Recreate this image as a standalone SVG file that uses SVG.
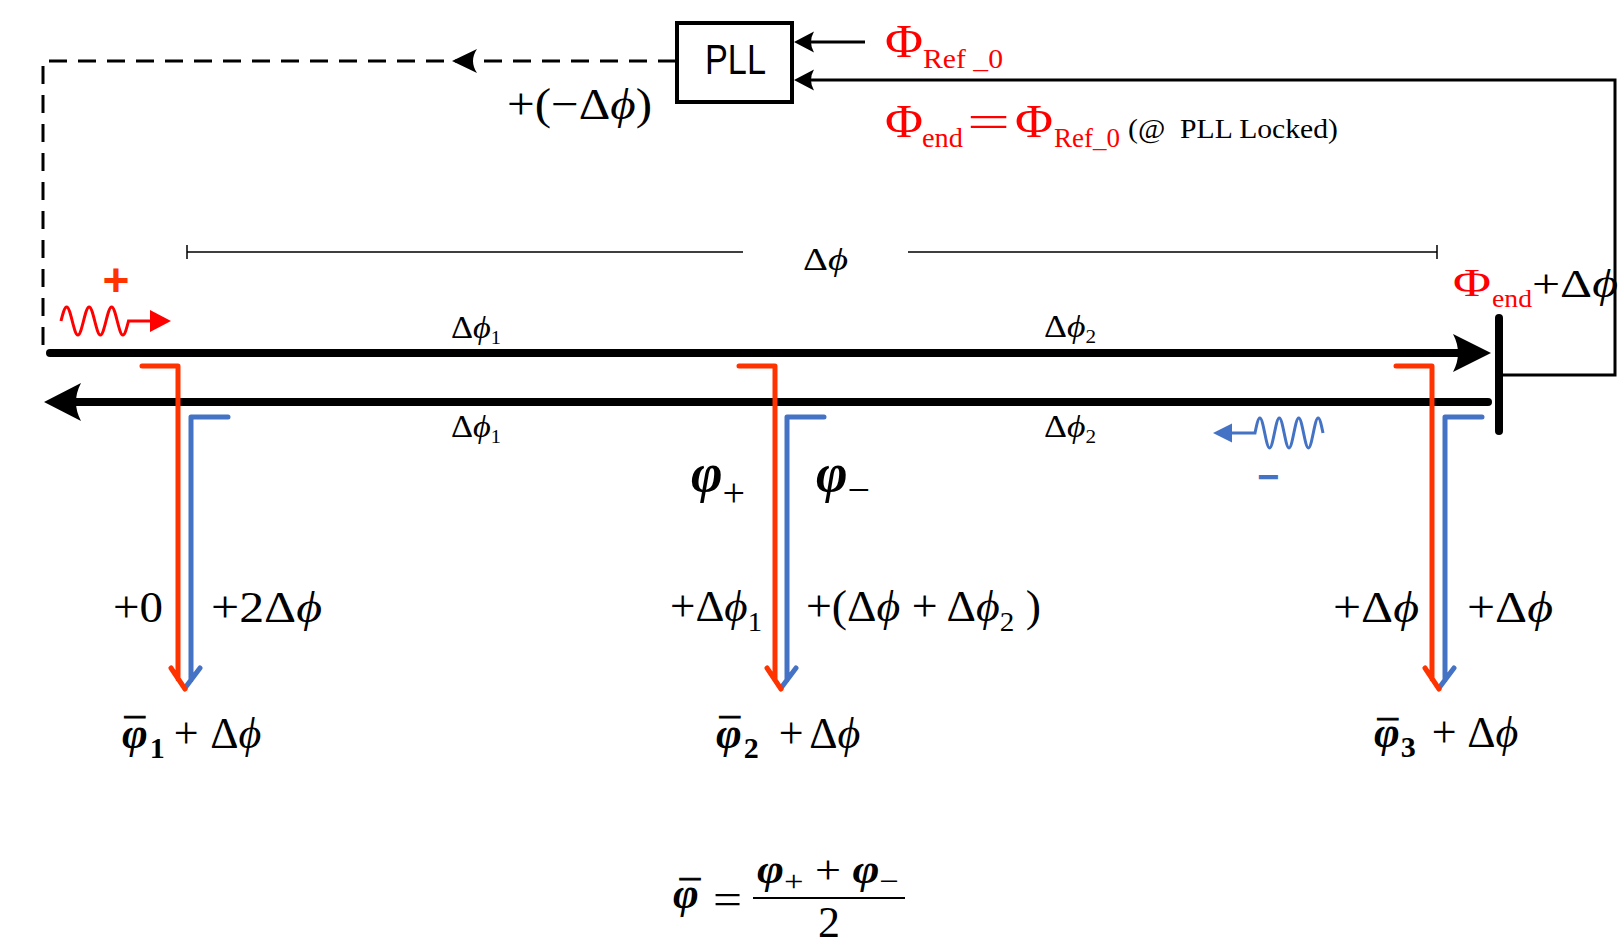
<svg xmlns="http://www.w3.org/2000/svg" width="1622" height="946" viewBox="0 0 1622 946">
<style>
text{font-family:'Liberation Serif','Times New Roman',serif;fill:#000}
.sans{font-family:'Liberation Sans',Arial,sans-serif}
.it{font-style:italic}
.bi{font-style:italic;font-weight:bold}
.b{font-weight:bold}
.red{fill:#FF0000}
.bar{text-anchor:middle;font-size:40px;stroke:#000;stroke-width:1;font-style:normal;font-weight:normal}
.bar2{font-size:40px;stroke:#000;stroke-width:1;font-style:normal;font-weight:normal}
.wire{fill:none;stroke:#000;stroke-width:3}
.thin{fill:none;stroke:#000;stroke-width:1.5}
.dash{stroke-dasharray:18 11}
.main{fill:none;stroke:#000;stroke-width:8;stroke-linecap:round}
.head{fill:#000}
.rl{fill:none;stroke:#FF3300;stroke-width:5;stroke-linecap:round;stroke-linejoin:round}
.bl{fill:none;stroke:#4472C4;stroke-width:5;stroke-linecap:round;stroke-linejoin:round}
.wr{fill:none;stroke:#FF0000;stroke-width:3}
.wb{fill:none;stroke:#4472C4;stroke-width:3}
</style>
<rect width="1622" height="946" fill="#fff"/>

<g id="connectors">
  <path class="wire dash" d="M676,61 H43 V352"/>
  <path class="head" d="M452,61 L477,49 Q469,61 477,73 Z"/>
  <path class="wire" d="M865,42 H808"/>
  <path class="head" d="M794,42 L814,31.5 Q808,42 814,52.5 Z"/>
  <path class="wire" d="M1503,375 H1615 V80 H808"/>
  <path class="head" d="M794,80 L814,69.5 Q808,80 814,90.5 Z"/>
  <path class="thin" d="M187,245 V259 M187,252 H743 M908,252 H1437 M1437,245 V259"/>
  <path class="main" d="M50,353 H1466"/>
  <path class="head" d="M1491,353 L1453,334 Q1463,353 1453,372 Z"/>
  <path class="main" d="M1488,402 H70"/>
  <path class="head" d="M44,402 L81,383 Q71,402 81,421 Z"/>
  <path class="main" d="M1499,318 V431"/>
  <path class="bl" d="M228,417 H191 V680 M200,668 L185,688"/>
  <path class="rl" d="M142,366 H178 V679 M171,668 L185,689"/>
  <path class="bl" d="M824,417 H787 V680 M796,668 L781,688"/>
  <path class="rl" d="M739,366 H775 V679 M767,668 L781,689"/>
  <path class="bl" d="M1482,417 H1445 V680 M1454,668 L1439,688"/>
  <path class="rl" d="M1396,366 H1432 V679 M1425,668 L1439,689"/>
</g>

<g id="pll">
  <rect x="677" y="23" width="115" height="79" fill="#fff" stroke="#000" stroke-width="4"/>
  <text class="sans" x="705" y="74" font-size="43" textLength="61" lengthAdjust="spacingAndGlyphs">PLL</text>
</g>

<g id="forward-wave">
  <path class="wr" d="M61,321 C62.835,313.828 64.589,307 66.625,307 C68.661,307 70.415,313.828 72.25,321 C74.085,328.172 75.839,335 77.875,335 C79.911,335 81.665,328.172 83.5,321 C85.335,313.828 87.089,307 89.125,307 C91.161,307 92.915,313.828 94.75,321 C96.585,328.172 98.339,335 100.375,335 C102.411,335 104.165,328.172 106,321 C107.835,313.828 109.589,307 111.625,307 C113.661,307 115.415,313.828 117.25,321 C119.085,328.172 120.839,335 122.875,335 C124.911,335 126.665,328.172 128.5,321 L152,321"/>
  <path d="M171,321 L150,310 L150,332 Z" fill="#FF0000"/>
  <text class="sans b" x="116" y="296" font-size="46" text-anchor="middle" style="fill:#FF3300">+</text>
</g>

<g id="backward-wave">
  <path class="wb" d="M1230,433 H1255 C1256.584,425.316 1258.099,418 1259.857,418 C1261.615,418 1263.13,425.316 1264.714,433 C1266.298,440.684 1267.813,448 1269.571,448 C1271.329,448 1272.844,440.684 1274.429,433 C1276.013,425.316 1277.528,418 1279.286,418 C1281.044,418 1282.559,425.316 1284.143,433 C1285.727,440.684 1287.242,448 1289,448 C1290.758,448 1292.273,440.684 1293.857,433 C1295.441,425.316 1296.956,418 1298.714,418 C1300.472,418 1301.987,425.316 1303.571,433 C1305.155,440.684 1306.67,448 1308.429,448 C1310.187,448 1311.702,440.684 1313.286,433 C1314.87,425.316 1316.385,418 1318.143,418 C1319.901,418 1321.416,425.316 1323,433"/>
  <path d="M1213,433 L1232,423.5 L1232,442.5 Z" fill="#4472C4"/>
  <text class="sans b" x="1268" y="490" font-size="38" text-anchor="middle" style="fill:#4472C4">−</text>
</g>

<g id="labels-top">
  <text x="507" y="119" font-size="44" textLength="145" lengthAdjust="spacingAndGlyphs">+(−Δ<tspan class="it">ϕ</tspan>)</text>
  <text y="57"><tspan class="red" x="885" font-size="46" textLength="38" lengthAdjust="spacingAndGlyphs">Φ</tspan><tspan class="red" x="923" y="68" font-size="28" textLength="80" lengthAdjust="spacingAndGlyphs">Ref _0</tspan></text>
  <text y="137"><tspan class="red" x="885" font-size="46" textLength="38" lengthAdjust="spacingAndGlyphs">Φ</tspan><tspan class="red" x="922" y="147" font-size="28" textLength="41" lengthAdjust="spacingAndGlyphs">end</tspan><tspan class="red" x="967" y="137" font-size="46" textLength="43" lengthAdjust="spacingAndGlyphs">=</tspan><tspan class="red" x="1015" font-size="46" textLength="38" lengthAdjust="spacingAndGlyphs">Φ</tspan><tspan class="red" x="1054" y="147" font-size="28" textLength="66" lengthAdjust="spacingAndGlyphs">Ref_0</tspan><tspan x="1128" y="138" font-size="27" textLength="210" lengthAdjust="spacingAndGlyphs" style="white-space:pre">(@  PLL Locked)</tspan></text>
  <text x="803" y="270" font-size="32" textLength="45" lengthAdjust="spacingAndGlyphs">Δ<tspan class="it">ϕ</tspan></text>
  <text y="296"><tspan class="red" x="1453" font-size="40" textLength="38" lengthAdjust="spacingAndGlyphs">Φ</tspan><tspan class="red" x="1492" y="307" font-size="26" textLength="40" lengthAdjust="spacingAndGlyphs">end</tspan><tspan x="1532" y="297" font-size="40" textLength="86" lengthAdjust="spacingAndGlyphs">+Δ<tspan class="it">ϕ</tspan></tspan></text>
</g>

<g id="labels-segments">
  <text x="451" y="338" font-size="32" textLength="50" lengthAdjust="spacingAndGlyphs">Δ<tspan class="it">ϕ</tspan><tspan font-size="19" dy="6">1</tspan></text>
  <text x="1044" y="337" font-size="32" textLength="52" lengthAdjust="spacingAndGlyphs">Δ<tspan class="it">ϕ</tspan><tspan font-size="19" dy="6">2</tspan></text>
  <text x="451" y="437" font-size="32" textLength="50" lengthAdjust="spacingAndGlyphs">Δ<tspan class="it">ϕ</tspan><tspan font-size="19" dy="6">1</tspan></text>
  <text x="1044" y="437" font-size="32" textLength="52" lengthAdjust="spacingAndGlyphs">Δ<tspan class="it">ϕ</tspan><tspan font-size="19" dy="6">2</tspan></text>
</g>

<g id="labels-phases">
  <text x="691" y="491" font-size="54"><tspan class="bi">φ</tspan><tspan font-size="40" dy="15">+</tspan></text>
  <text x="816" y="491" font-size="54"><tspan class="bi">φ</tspan><tspan font-size="40" dy="12">−</tspan></text>
  <text x="113" y="622" font-size="44" textLength="50" lengthAdjust="spacingAndGlyphs">+0</text>
  <text x="211" y="622" font-size="44" textLength="111" lengthAdjust="spacingAndGlyphs">+2Δ<tspan class="it">ϕ</tspan></text>
  <text x="670" y="621" font-size="44" textLength="92" lengthAdjust="spacingAndGlyphs">+Δ<tspan class="it">ϕ</tspan><tspan font-size="28" dy="10">1</tspan></text>
  <text x="806" y="621" font-size="44" textLength="235" lengthAdjust="spacingAndGlyphs">+(Δ<tspan class="it">ϕ</tspan> + Δ<tspan class="it">ϕ</tspan><tspan font-size="28" dy="10">2</tspan><tspan dy="-10"> )</tspan></text>
  <text x="1333" y="622" font-size="44" textLength="86" lengthAdjust="spacingAndGlyphs">+Δ<tspan class="it">ϕ</tspan></text>
  <text x="1467" y="622" font-size="44" textLength="86" lengthAdjust="spacingAndGlyphs">+Δ<tspan class="it">ϕ</tspan></text>
</g>

<g id="labels-averages">
  <text x="122" y="748" font-size="44"><tspan class="bi">φ</tspan><tspan class="bar2" dx="-23" dy="-1">¯</tspan><tspan class="b" font-size="30" dx="5" dy="11">1</tspan><tspan dx="-2" dy="-10"> + </tspan><tspan dx="3">Δ</tspan><tspan class="it">ϕ</tspan></text>
  <text x="716" y="748" font-size="44"><tspan class="bi">φ</tspan><tspan class="bar2" dx="-22" dy="-1">¯</tspan><tspan class="b" font-size="30" dx="4" dy="11">2</tspan><tspan dx="9" dy="-10"> + </tspan><tspan dx="-3">Δ</tspan><tspan class="it">ϕ</tspan></text>
  <text x="1374" y="747" font-size="44"><tspan class="bi">φ</tspan><tspan class="bar2" dx="-22" dy="2">¯</tspan><tspan class="b" font-size="30" dx="3" dy="8">3</tspan><tspan dx="5" dy="-10"> + </tspan><tspan dx="2">Δ</tspan><tspan class="it">ϕ</tspan></text>
</g>

<g id="formula">
  <text y="908" font-size="44"><tspan class="bi" x="673">φ</tspan><tspan class="bar" x="690" y="909">¯</tspan></text>
  <text x="713" y="914" font-size="44" textLength="29" lengthAdjust="spacingAndGlyphs">=</text>
  <text x="757" y="883" font-size="40" textLength="142" lengthAdjust="spacingAndGlyphs"><tspan class="bi">φ</tspan><tspan font-size="30" dy="8">+</tspan><tspan dy="-8"> + </tspan><tspan class="bi">φ</tspan><tspan font-size="30" dy="8">−</tspan></text>
  <path d="M753,898 H905" stroke="#000" stroke-width="2"/>
  <text x="818" y="937" font-size="44">2</text>
</g>
</svg>
